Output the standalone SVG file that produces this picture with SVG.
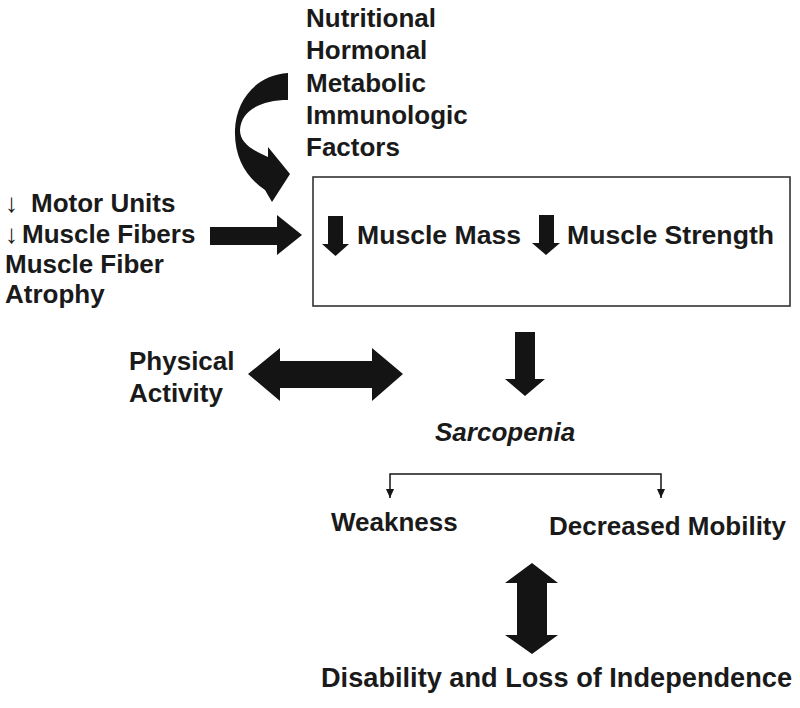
<svg xmlns="http://www.w3.org/2000/svg" width="800" height="708" viewBox="0 0 800 708">
<defs>
<style>
.t{font-family:"Liberation Sans",Arial,Helvetica,sans-serif;font-weight:bold;font-size:26px;fill:#1a1a1a}
.it{font-style:italic}
.ar{font-weight:normal}
.a{fill:#141414}
.ln{stroke:#141414;stroke-width:1.5;fill:none}
</style>
<marker id="sm" viewBox="0 0 9 8" refX="9" refY="4" markerWidth="9" markerHeight="8" markerUnits="userSpaceOnUse" orient="auto-start-reverse">
<path d="M0,0 L9,4 L0,8 Z" fill="#141414"/>
</marker>
</defs>
<rect width="800" height="708" fill="#fff"/>

<g id="factors">
<text class="t" x="306" y="27">Nutritional</text>
<text class="t" x="306" y="59">Hormonal</text>
<text class="t" x="306" y="92">Metabolic</text>
<text class="t" x="306" y="124">Immunologic</text>
<text class="t" x="306" y="156">Factors</text>
</g>

<g id="motor">
<text class="t" x="5" y="212"><tspan class="ar" x="5">↓ </tspan><tspan x="31">Motor Units</tspan></text>
<text class="t" x="5" y="243"><tspan class="ar" x="5">↓</tspan><tspan x="22">Muscle Fibers</tspan></text>
<text class="t" x="5" y="273">Muscle Fiber</text>
<text class="t" x="5" y="303">Atrophy</text>
</g>

<g id="musclebox">
<rect x="313" y="177" width="477" height="129" fill="none" stroke="#333" stroke-width="1.6"/>
<polygon class="a" points="328,216 343,216 343,244 349,244 335.5,256 322,244 328,244"/>
<text class="t" x="357" y="244" textLength="164" lengthAdjust="spacingAndGlyphs">Muscle Mass</text>
<polygon class="a" points="539,215 554,215 554,243 560,243 546,255 532,243 539,243"/>
<text class="t" x="567" y="244" textLength="207" lengthAdjust="spacingAndGlyphs">Muscle Strength</text>
</g>

<g id="activity">
<text class="t" x="129" y="370">Physical</text>
<text class="t" x="129" y="402">Activity</text>
</g>

<g id="sarcopenia">
<text class="t it" x="435" y="441">Sarcopenia</text>
</g>

<g id="weakness">
<text class="t" x="331" y="531">Weakness</text>
</g>

<g id="mobility">
<text class="t" x="549" y="535">Decreased Mobility</text>
</g>

<g id="disability">
<text class="t" x="321" y="687" style="font-size:27px" textLength="471" lengthAdjust="spacingAndGlyphs">Disability and Loss of Independence</text>
</g>

<g id="connectors">
<path class="a" d="M288,73 C256,75 236,100 235,130 C234,158 247,178 265,190 L272,202 L290,174 L268,147 L268,157 C252,150 240,143 240,130 C241,110 262,100 288,100 Z"/>
<polygon class="a" points="210,227 277,227 277,215 302,235 277,255 277,245 210,245"/>
<polygon class="a" points="248,374 280,348 280,361 372,361 372,348 403,374 372,401 372,388 280,388 280,401"/>
<polygon class="a" points="515,332 535,332 535,379 545,379 525,396 505,379 515,379"/>
<path class="ln" d="M390,498 L390,474 L661,474 L661,498" marker-start="url(#sm)" marker-end="url(#sm)"/>
<polygon class="a" points="532,563 558,583 547,583 547,635 558,635 532,654 505,635 517,635 517,583 505,583"/>
</g>
</svg>
